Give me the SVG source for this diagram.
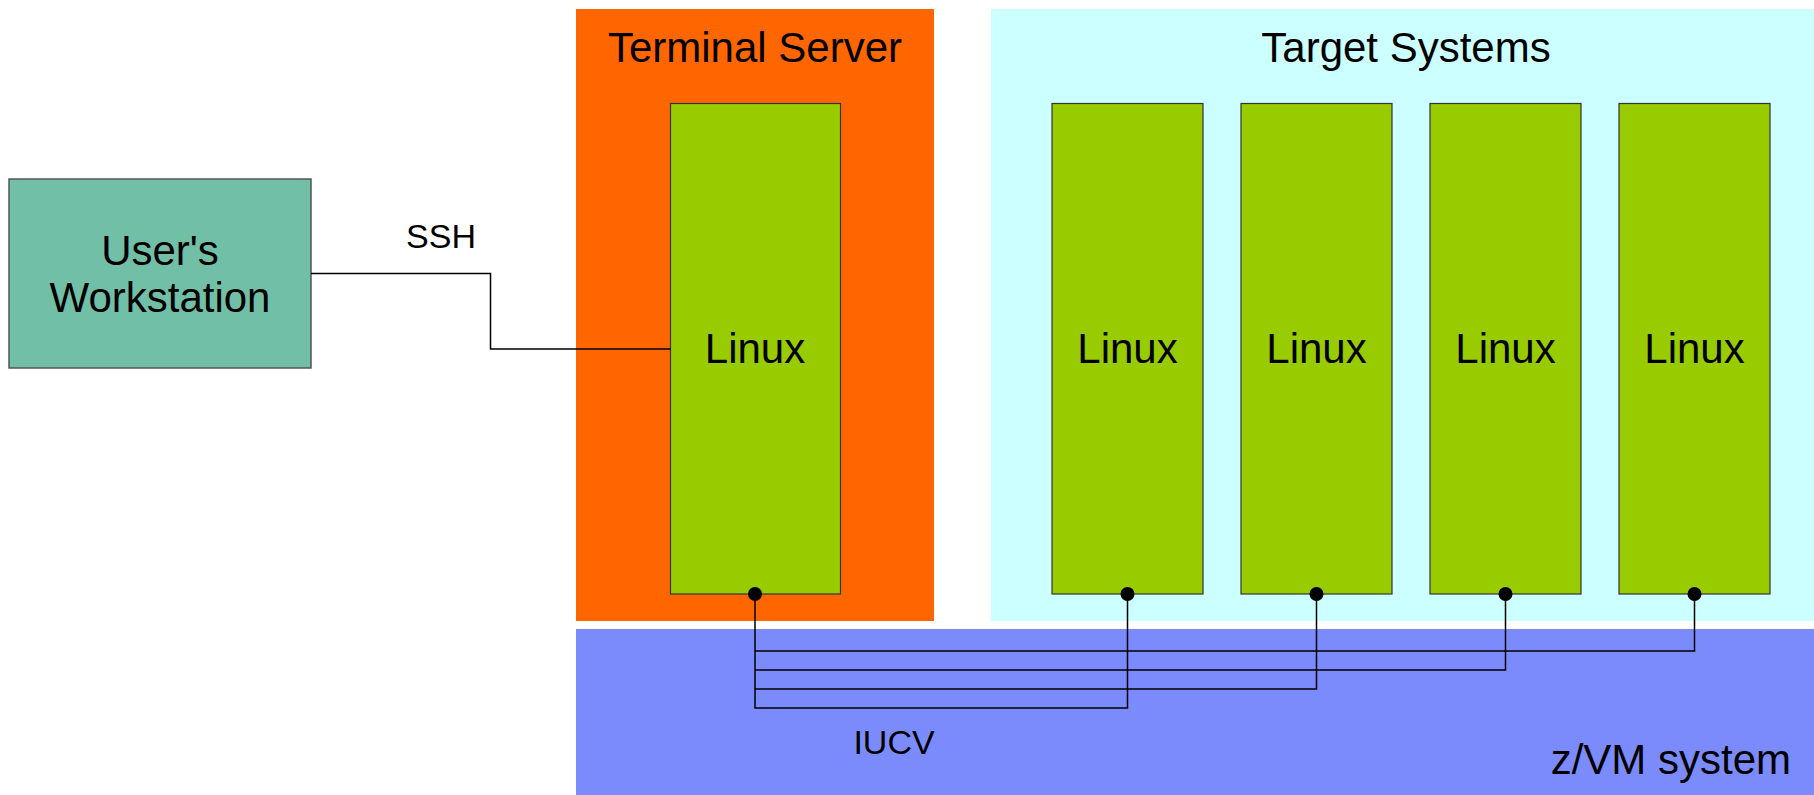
<svg xmlns="http://www.w3.org/2000/svg" width="1814" height="795" viewBox="0 0 1814 795">
<style>
text{font-family:"Liberation Sans",Arial,sans-serif;fill:#000}
.big{font-size:42px}
.small{font-size:34px}
.linux{fill:#99cc00;stroke:#333;stroke-width:1.2}
.conn{fill:none;stroke:#000;stroke-width:1.5}
.dot{fill:#000}
</style>
<rect width="1814" height="795" fill="#fff"/>
<g id="zvm">
<rect x="576" y="629" width="1238" height="166" fill="#7b8bfc"/>
<text class="big" x="1791" y="774" text-anchor="end">z/VM system</text>
</g>
<g id="terminal-server">
<rect x="576" y="9" width="358" height="612" fill="#ff6600"/>
<text class="big" x="755" y="62" text-anchor="middle">Terminal Server</text>
</g>
<g id="target-systems">
<rect x="991" y="9" width="823" height="612" fill="#ccffff"/>
<text class="big" x="1406" y="62" text-anchor="middle">Target Systems</text>
</g>
<g id="workstation">
<rect x="9" y="179" width="302" height="189" fill="#72bfa7" stroke="#555" stroke-width="1.5"/>
<text class="big" x="160" y="265" text-anchor="middle">User's</text>
<text class="big" x="160" y="312" text-anchor="middle">Workstation</text>
</g>
<g id="ts-linux">
<rect class="linux" x="670.5" y="103.5" width="170" height="490.5"/>
<text class="big" x="755" y="363" text-anchor="middle">Linux</text>
</g>
<g id="target-linux-1">
<rect class="linux" x="1052" y="103.5" width="151" height="490.5"/>
<text class="big" x="1127.5" y="363" text-anchor="middle">Linux</text>
</g>
<g id="target-linux-2">
<rect class="linux" x="1241" y="103.5" width="151" height="490.5"/>
<text class="big" x="1316.5" y="363" text-anchor="middle">Linux</text>
</g>
<g id="target-linux-3">
<rect class="linux" x="1430" y="103.5" width="151" height="490.5"/>
<text class="big" x="1505.5" y="363" text-anchor="middle">Linux</text>
</g>
<g id="target-linux-4">
<rect class="linux" x="1619" y="103.5" width="151" height="490.5"/>
<text class="big" x="1694.5" y="363" text-anchor="middle">Linux</text>
</g>
<g id="connectors">
<polyline class="conn" points="311,273.5 490.5,273.5 490.5,349 670.5,349"/>
<text class="small" x="441" y="248" text-anchor="middle">SSH</text>
<polyline class="conn" points="755,594 755,708 1127.5,708 1127.5,594"/>
<polyline class="conn" points="755,689 1316.5,689 1316.5,594"/>
<polyline class="conn" points="755,670 1505.5,670 1505.5,594"/>
<polyline class="conn" points="755,651 1694.5,651 1694.5,594"/>
<circle class="dot" cx="755" cy="594" r="7"/>
<circle class="dot" cx="1127.5" cy="594" r="7"/>
<circle class="dot" cx="1316.5" cy="594" r="7"/>
<circle class="dot" cx="1505.5" cy="594" r="7"/>
<circle class="dot" cx="1694.5" cy="594" r="7"/>
<text class="small" x="894" y="754" text-anchor="middle">IUCV</text>
</g>
</svg>
